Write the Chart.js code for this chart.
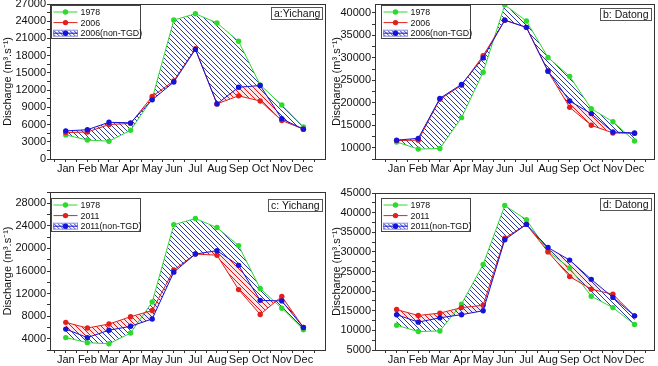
<!DOCTYPE html>
<html lang="en">
  <head>
    <meta charset="UTF-8" />
    <title>Discharge - Yichang / Datong</title>
    <style>
      body {
        margin: 0;
        width: 658px;
        height: 366px;
        position: relative;
        overflow: hidden;
        background: #fff;
      }
      .panel {
        position: absolute;
        width: 329px;
        height: 183px;
      }
      .panel canvas {
        display: block;
      }
    </style>
  </head>
  <body>
    <div class="panel" style="left: 0; top: 0"><canvas id="chartA" width="329" height="183"></canvas></div>
    <div class="panel" style="left: 329px; top: 0"><canvas id="chartB" width="329" height="183"></canvas></div>
    <div class="panel" style="left: 0; top: 183px"><canvas id="chartC" width="329" height="183"></canvas></div>
    <div class="panel" style="left: 329px; top: 183px"><canvas id="chartD" width="329" height="183"></canvas></div>

    <script src="https://cdn.jsdelivr.net/npm/chart.js"></script>
    <script>
      const months = ["Jan", "Feb", "Mar", "Apr", "May", "Jun", "Jul", "Aug", "Sep", "Oct", "Nov", "Dec"];

      // monthly discharge, m3/s
      const yichang1978 = [4200, 3300, 3100, 5000, 10500, 24200, 25300, 23700, 20500, 12900, 9400, 5600];
      const yichang2006 = [4600, 4700, 6000, 6200, 10900, 13600, 19200, 9600, 11000, 10100, 6700, 5200];
      const yichang2006NonTGD = [4900, 5100, 6400, 6300, 10300, 13400, 19100, 9600, 12500, 12800, 7000, 5200];
      const yichang2011 = [6900, 5900, 6600, 7900, 9000, 16200, 19000, 18800, 12700, 8300, 11500, 6000];
      const yichang2011NonTGD = [5700, 4200, 5500, 6200, 7500, 15800, 19000, 19600, 17000, 10800, 10700, 6000];

      const datong1978 = [11300, 9700, 9850, 16700, 26800, 41800, 38200, 30100, 25900, 18700, 15800, 11500];
      const datong2006 = [11600, 11700, 20800, 23900, 30500, 38400, 36800, 27000, 19000, 15000, 13300, 13200];
      const datong2006NonTGD = [11700, 12100, 21000, 24100, 30000, 38400, 36800, 27100, 20400, 17600, 13500, 13300];
      const datong2011 = [15300, 13800, 14400, 15800, 16400, 33500, 37000, 30000, 23700, 20500, 19200, 13700];
      const datong2011NonTGD = [14000, 12100, 13200, 14000, 15000, 33100, 37000, 31100, 27900, 23000, 18400, 13700];

      // y tick labels per panel
      const yTicksA = [0, 3000, 6000, 9000, 12000, 15000, 18000, 21000, 24000, 27000];
      const yTicksB = [10000, 15000, 20000, 25000, 30000, 35000, 40000];
      const yTicksC = [4000, 8000, 12000, 16000, 20000, 24000, 28000];
      const yTicksD = [5000, 10000, 15000, 20000, 25000, 30000, 35000, 40000, 45000];

      const GREEN = "#2ed92e";
      const RED = "#e3201c";
      const BLUE = "#1414dc";
      const BLUE_HATCH = "#2c3aa8";
      const RED_HATCH = "#e81010";
      const FONT = "'Liberation Sans', Arial, sans-serif";

      Chart.defaults.font.family = FONT;
      Chart.defaults.font.size = 11;
      Chart.defaults.color = "#111";

      function bandPath(ctx, p, q) {
        ctx.beginPath();
        p.forEach((pt, k) => (k ? ctx.lineTo(pt.x, pt.y) : ctx.moveTo(pt.x, pt.y)));
        for (let k = q.length - 1; k >= 0; k--) ctx.lineTo(q[k].x, q[k].y);
        ctx.closePath();
      }

      // hatched band between a dataset and the one named in bandWith
      const bandFill = {
        id: "bandFill",
        beforeDatasetsDraw(chart) {
          const { ctx, chartArea: a } = chart;
          chart.data.datasets.forEach((ds, i) => {
            if (ds.bandWith === undefined) return;
            const p = chart.getDatasetMeta(i).data;
            const q = chart.getDatasetMeta(ds.bandWith).data;
            ctx.save();
            if (ds.bandTint) {
              bandPath(ctx, p, q);
              ctx.fillStyle = ds.bandTint;
              ctx.fill();
            }
            bandPath(ctx, p, q);
            ctx.clip();
            ctx.strokeStyle = ds.hatchColor;
            ctx.lineWidth = 1;
            ctx.beginPath();
            const h = a.bottom - a.top;
            for (let s = a.left - h; s < a.right; s += 5) {
              ctx.moveTo(s, a.top);
              ctx.lineTo(s + h, a.bottom);
            }
            ctx.stroke();
            ctx.restore();
          });
        },
      };

      const frame = {
        id: "frame",
        afterDatasetsDraw(chart) {
          const { ctx, chartArea: a } = chart;
          ctx.save();
          ctx.strokeStyle = "#333";
          ctx.lineWidth = 1;
          ctx.strokeRect(Math.round(a.left) + 0.5, Math.round(a.top) + 0.5, Math.round(a.width), Math.round(a.height));
          ctx.restore();
        },
      };

      const insideLegend = {
        id: "insideLegend",
        afterDraw(chart, args, opts) {
          const { ctx, chartArea } = chart;
          const x = Math.round(chartArea.left + opts.dx) + 0.5;
          const y = Math.round(chartArea.top + opts.dy) + 0.5;
          const w = 89, h = 33;
          ctx.save();
          ctx.fillStyle = "#fff";
          ctx.fillRect(x, y, w, h);
          ctx.strokeStyle = "#444";
          ctx.lineWidth = 1;
          ctx.strokeRect(x, y, w, h);
          ctx.font = "8.8px " + FONT;
          ctx.textBaseline = "middle";
          chart.data.datasets.forEach((ds, i) => {
            const cy = y + 6.5 + i * 10.6;
            if (ds.bandWith === 0) {
              ctx.save();
              ctx.beginPath();
              ctx.rect(x + 2, cy - 3, 24, 6);
              ctx.clip();
              ctx.strokeStyle = ds.hatchColor;
              ctx.beginPath();
              for (let s = x - 6; s < x + 28; s += 4) {
                ctx.moveTo(s, cy - 3);
                ctx.lineTo(s + 6, cy + 3);
              }
              ctx.stroke();
              ctx.restore();
              ctx.strokeStyle = "#8c8ce8";
              ctx.strokeRect(x + 2, cy - 3, 24, 6);
            }
            ctx.strokeStyle = ds.borderColor;
            ctx.beginPath();
            ctx.moveTo(x + 2, cy);
            ctx.lineTo(x + 26, cy);
            ctx.stroke();
            ctx.fillStyle = ds.pointBackgroundColor;
            ctx.beginPath();
            ctx.arc(x + 14, cy, 2.7, 0, Math.PI * 2);
            ctx.fill();
            ctx.fillStyle = "#111";
            ctx.fillText(ds.label, x + 29, cy + 0.5);
          });
          ctx.restore();
        },
      };

      const cornerLabel = {
        id: "cornerLabel",
        afterDraw(chart, args, opts) {
          const { ctx, chartArea } = chart;
          ctx.save();
          ctx.font = "10.5px " + FONT;
          const tw = ctx.measureText(opts.text).width;
          const w = Math.round(tw + 5), h = 12;
          const x = Math.round(chartArea.right - 3 - w) + 0.5;
          const y = Math.round(chartArea.top + opts.dy) + 0.5;
          ctx.fillStyle = "#fff";
          ctx.fillRect(x, y, w, h);
          ctx.strokeStyle = "#555";
          ctx.strokeRect(x, y, w, h);
          ctx.fillStyle = "#111";
          ctx.textBaseline = "middle";
          ctx.fillText(opts.text, x + 2.5, y + h / 2 + 0.5);
          ctx.restore();
        },
      };

      function points(values) {
        return values.map((v, i) => ({ x: i + 1, y: v }));
      }

      function makeChart(o) {
        const el = document.getElementById(o.id);

        const xTicks = [0.5];
        months.forEach((m, i) => xTicks.push(i + 1, i + 1.5));
        const step = o.yTicks[1] - o.yTicks[0];
        const yTicks = [];
        o.yTicks.forEach((v) => {
          yTicks.push(v);
          if (v + step / 2 <= o.yMax) yTicks.push(v + step / 2);
        });
        if (o.yTicks[0] - step / 2 >= o.yMin) yTicks.unshift(o.yTicks[0] - step / 2);

        const line = (label, values, color, extra) =>
          Object.assign(
            {
              label,
              data: points(values),
              borderColor: color,
              borderWidth: 1,
              pointBackgroundColor: color,
              pointBorderWidth: 0,
              pointRadius: 2.7,
              tension: 0,
              fill: false,
            },
            extra
          );

        new Chart(el, {
          type: "line",
          data: {
            datasets: [
              line("1978", o.base, GREEN, { order: 2 }),
              line(o.year, o.real, RED, {
                order: 1, bandWith: 2, hatchColor: RED_HATCH, bandTint: "rgba(232, 40, 40, 0.12)",
              }),
              line(o.year + "(non-TGD)", o.natural, BLUE, { order: 0, bandWith: 0, hatchColor: BLUE_HATCH }),
            ],
          },
          options: {
            responsive: false,
            animation: false,
            events: [],
            layout: { padding: { top: o.padTop, right: 4, left: 0, bottom: 0 } },
            plugins: {
              legend: { display: false },
              tooltip: { enabled: false },
              insideLegend: { dx: o.legendDx, dy: o.legendDy },
              cornerLabel: { text: o.label, dy: o.labelDy },
            },
            scales: {
              x: {
                type: "linear",
                min: o.xMin,
                max: o.xMax,
                afterBuildTicks: (s) => {
                  s.ticks = xTicks.map((v) => ({ value: v }));
                },
                afterFit: (s) => {
                  s.height = o.xHeight;
                  s.paddingLeft = 0;
                  s.paddingRight = 0;
                },
                ticks: {
                  autoSkip: false,
                  maxRotation: 0,
                  padding: 0,
                  color: "#111",
                  callback: (v) => (Number.isInteger(v) ? months[v - 1] : ""),
                },
                grid: { drawOnChartArea: false, tickLength: 3, color: "#333" },
                border: { color: "#333" },
              },
              y: {
                type: "linear",
                min: o.yMin,
                max: o.yMax,
                afterBuildTicks: (s) => {
                  s.ticks = yTicks.map((v) => ({ value: v }));
                },
                afterFit: (s) => {
                  s.width = o.yWidth;
                  s.paddingTop = 0;
                  s.paddingBottom = 0;
                },
                ticks: {
                  autoSkip: false,
                  padding: 1,
                  color: "#111",
                  callback: (v) => (o.yTicks.includes(v) ? String(v) : ""),
                },
                grid: { drawOnChartArea: false, tickLength: 3, color: "#333" },
                border: { color: "#333" },
                title: {
                  display: true,
                  text: "Discharge (m³.s⁻¹)",
                  color: "#111",
                  font: { size: 11 },
                  padding: { top: 1, bottom: 0 },
                },
              },
            },
          },
          plugins: [bandFill, frame, insideLegend, cornerLabel],
        });
      }

      makeChart({
        id: "chartA", label: "a:Yichang", year: "2006",
        base: yichang1978, real: yichang2006, natural: yichang2006NonTGD,
        yMin: 0, yMax: 27000, yTicks: yTicksA,
        xMin: 0.27, xMax: 13, yWidth: 50, xHeight: 24, padTop: 4,
        legendDx: 1, legendDy: 1, labelDy: 3,
      });
      makeChart({
        id: "chartB", label: "b: Datong", year: "2006",
        base: datong1978, real: datong2006, natural: datong2006NonTGD,
        yMin: 7500, yMax: 42000, yTicks: yTicksB,
        xMin: 0, xMax: 12.9, yWidth: 46, xHeight: 24, padTop: 3,
        legendDx: 6, legendDy: 1, labelDy: 4,
      });
      makeChart({
        id: "chartC", label: "c: Yichang", year: "2011",
        base: yichang1978, real: yichang2011, natural: yichang2011NonTGD,
        yMin: 2000, yMax: 30000, yTicks: yTicksC,
        xMin: 0.27, xMax: 13, yWidth: 50, xHeight: 16, padTop: 9,
        legendDx: 1, legendDy: 6, labelDy: 7,
      });
      makeChart({
        id: "chartD", label: "d: Datong", year: "2011",
        base: datong1978, real: datong2011, natural: datong2011NonTGD,
        yMin: 5000, yMax: 45000, yTicks: yTicksD,
        xMin: 0, xMax: 12.9, yWidth: 46, xHeight: 16, padTop: 10,
        legendDx: 6, legendDy: 5, labelDy: 5,
      });
    </script>
  </body>
</html>
